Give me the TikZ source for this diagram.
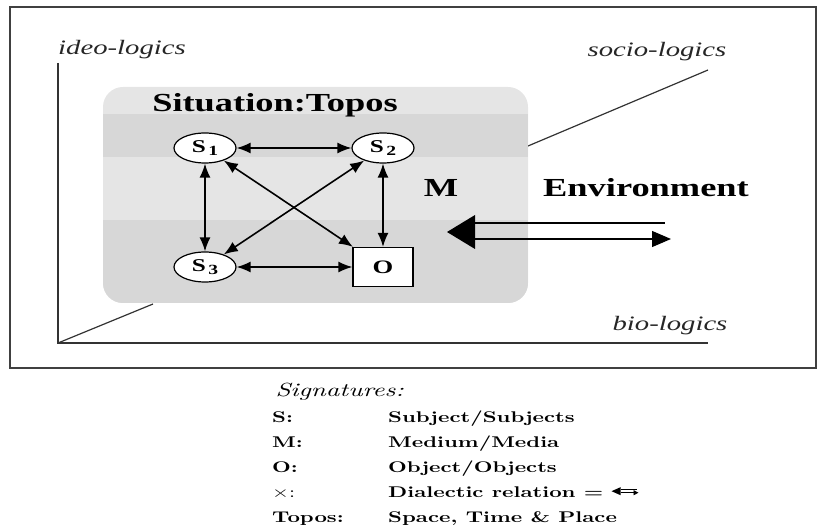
\documentclass[tikz,border=0pt]{standalone}
\usepackage{fontspec}
\usetikzlibrary{arrows.meta,matrix,positioning,shapes.geometric}
\newfontfamily\figfont{Liberation Serif}[FakeStretch=1.4]
\newfontfamily\sigfont{lmroman10}[Extension=.otf,UprightFont=*-regular,BoldFont=*-bold,ItalicFont=*-italic,FakeStretch=1.4]
\colorlet{bandlight}{gray!20}
\colorlet{banddark}{gray!31}
\newcommand{\subj}[1]{S\kern2.5pt\raisebox{-2.5pt}{\fontsize{14}{14}\selectfont #1}}

\begin{document}
\begin{tikzpicture}[x=1pt,y=-1pt,
  logic/.style={font=\figfont\itshape\fontsize{20.5}{24}\selectfont,text=black!85},
  big/.style={font=\figfont\bfseries\fontsize{26}{30}\selectfont},
  subject/.style={ellipse,draw,fill=white,line width=1.2pt,minimum width=62pt,minimum height=30pt,inner sep=0pt,
    font=\figfont\bfseries\fontsize{18}{20}\selectfont},
  object/.style={rectangle,draw,fill=white,line width=1.2pt,minimum width=60pt,minimum height=39pt,inner sep=0pt,
    font=\figfont\bfseries\fontsize{19}{21}\selectfont},
  rel/.style={{Latex[length=14pt,width=11pt]}-{Latex[length=14pt,width=11pt]},line width=1.6pt},
  axis/.style={line width=1.2pt,draw=black!80}]
  \useasboundingbox (0,0) rectangle (817,529);

  % frame and the three logics
  \draw[line width=1.3pt,black!75] (10,7) rectangle (816,368);
  \coordinate (origin) at (58,343);
  \draw[axis] (58,63) -- (origin) -- (708,343);
  \draw[axis] (origin) -- (153,304);
  \draw[axis] (528,146) -- (708,70);
  \node[logic] (ideo) at (122,50) {ideo-logics};
  \node[logic] (socio) at (657,52) {socio-logics};
  \node[logic] (bio) at (670,326) {bio-logics};

  % situation box
  \fill[bandlight,rounded corners=20pt] (103,87) rectangle (528,303);
  \begin{scope}
    \clip[rounded corners=20pt] (103,87) rectangle (528,303);
    \fill[banddark] (103,114) rectangle (528,157);
    \fill[banddark] (103,220) rectangle (528,303);
  \end{scope}
  \node[big] (topos) at (275,105) {Situation:Topos};
  \node[big] (medium) at (441,188) {M};
  \node[big] (env) at (646,188) {Environment};

  \node[subject] (s1) at (205,148) {\subj{1}};
  \node[subject] (s2) at (383,148) {\subj{2}};
  \node[subject] (s3) at (205,267) {\subj{3}};
  \node[object] (o) at (383,267) {O};
  \draw[rel] (s1) -- (s2);
  \draw[rel] (s1) -- (s3);
  \draw[rel] (s2) -- (o);
  \draw[rel] (s3) -- (o);
  \draw[rel] (s1) -- (o);
  \draw[rel] (s2) -- (s3);

  % exchange with the environment
  \coordinate (envtip) at (447,232);
  \coordinate (envend) at (671,239);
  \fill (envtip) -- (475,215) -- (475,249) -- cycle;
  \draw[line width=1.3pt] (475,223) -- (665,223);
  \draw[line width=1.3pt,-{Triangle[length=19pt,width=16pt]}] (475,239) -- (envend);

  % signatures
  \node[anchor=base west,font=\sigfont\itshape\fontsize{19}{22}\selectfont] (sig) at (272,396) {Signatures:};
  \matrix (legend) [matrix of nodes,anchor=north west,inner sep=0pt,row sep=9pt,column sep=0pt,
    nodes={anchor=base west,inner sep=0pt,text height=12pt,text depth=4pt,
      font=\sigfont\bfseries\fontsize{15.5}{18}\selectfont},
    column 1/.style={nodes={text width=116pt}}] at (272,410) {
    S: & Subject/Subjects \\
    M: & Medium/Media \\
    O: & Object/Objects \\
    {\mdseries ×:} & Dialectic relation = \\
    Topos: & Space, Time \& Place \\
  };
  \coordinate (dl) at ([xshift=8pt,yshift=6pt]legend-4-2.base east);
  \fill (dl) -- ++(9,-4) -- ++(0,8) -- cycle;
  \draw[line width=0.9pt] ([shift={(9,-1.5)}]dl) -- ++(16,0);
  \draw[line width=0.9pt,-{Triangle[length=5pt,width=5pt]}] ([shift={(9,1.5)}]dl) -- ++(18,0);
\end{tikzpicture}
\end{document}
